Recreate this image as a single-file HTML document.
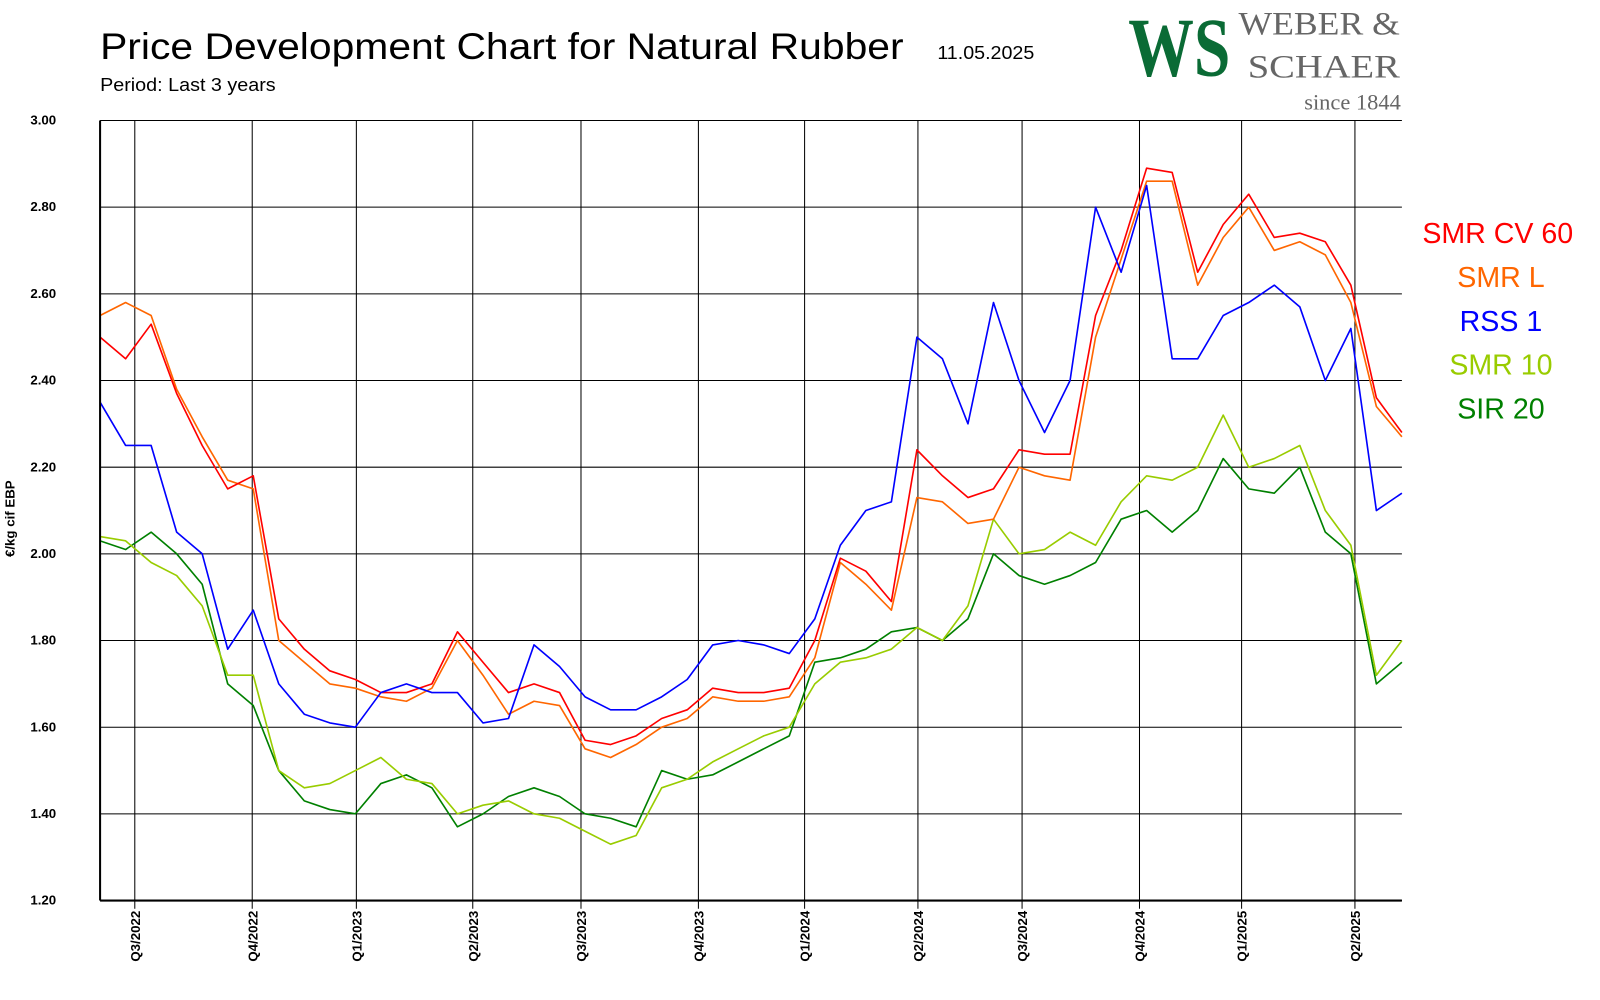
<!DOCTYPE html>
<html><head><meta charset="utf-8"><style>
html,body{margin:0;padding:0;background:#fff;}
svg{display:block;font-family:"Liberation Sans",sans-serif;}
</style></head><body>
<svg id="chart" width="1600" height="1000" viewBox="0 0 1567 979.4" xmlns="http://www.w3.org/2000/svg">
<text x="98" y="58" font-size="36" fill="#000" textLength="787" lengthAdjust="spacingAndGlyphs">Price Development Chart for Natural Rubber</text>
<text x="918" y="58" font-size="18" fill="#000" textLength="95" lengthAdjust="spacingAndGlyphs">11.05.2025</text>
<text x="98" y="89" font-size="18" fill="#000" textLength="172" lengthAdjust="spacingAndGlyphs">Period: Last 3 years</text>
<g>
<text x="1105" y="74" font-family="Liberation Serif,serif" font-weight="bold" font-size="82" fill="#0a6b35" textLength="100" lengthAdjust="spacingAndGlyphs">WS</text>
<text x="1213" y="34" font-family="Liberation Serif,serif" font-size="32" fill="#666" textLength="158" lengthAdjust="spacingAndGlyphs">WEBER &amp;</text>
<text x="1222" y="76" font-family="Liberation Serif,serif" font-size="32" fill="#666" textLength="149" lengthAdjust="spacingAndGlyphs">SCHAER</text>
<text x="1372" y="107" text-anchor="end" font-family="Liberation Serif,serif" font-size="22" fill="#666">since 1844</text>
</g>
<g id="grid"></g>
<g id="series"></g>
<g id="axes"></g>
<g id="legend"></g>
<text transform="translate(14,508) rotate(-90)" text-anchor="middle" font-size="13" font-weight="bold">€/kg cif EBP</text>
</svg>
<script>
const yTicks=[3.00,2.80,2.60,2.40,2.20,2.00,1.80,1.60,1.40,1.20];
const quarterLabels=["Q3/2022","Q4/2022","Q1/2023","Q2/2023","Q3/2023","Q4/2023","Q1/2024","Q2/2024","Q3/2024","Q4/2024","Q1/2025","Q2/2025"];
const quarterIdx=[1.36,5.96,10.04,14.6,18.84,23.44,27.6,32.04,36.12,40.72,44.72,49.16];
const smrCv60=[2.50,2.45,2.53,2.37,2.25,2.15,2.18,1.85,1.78,1.73,1.71,1.68,1.68,1.70,1.82,1.75,1.68,1.70,1.68,1.57,1.56,1.58,1.62,1.64,1.69,1.68,1.68,1.69,1.80,1.99,1.96,1.89,2.24,2.18,2.13,2.15,2.24,2.23,2.23,2.55,2.70,2.89,2.88,2.65,2.76,2.83,2.73,2.74,2.72,2.62,2.36,2.28];
const smrL=[2.55,2.58,2.55,2.38,2.27,2.17,2.15,1.80,1.75,1.70,1.69,1.67,1.66,1.69,1.80,1.72,1.63,1.66,1.65,1.55,1.53,1.56,1.60,1.62,1.67,1.66,1.66,1.67,1.76,1.98,1.93,1.87,2.13,2.12,2.07,2.08,2.20,2.18,2.17,2.50,2.68,2.86,2.86,2.62,2.73,2.80,2.70,2.72,2.69,2.58,2.34,2.27];
const rss1=[2.35,2.25,2.25,2.05,2.00,1.78,1.87,1.70,1.63,1.61,1.60,1.68,1.70,1.68,1.68,1.61,1.62,1.79,1.74,1.67,1.64,1.64,1.67,1.71,1.79,1.80,1.79,1.77,1.85,2.02,2.10,2.12,2.50,2.45,2.30,2.58,2.40,2.28,2.40,2.80,2.65,2.85,2.45,2.45,2.55,2.58,2.62,2.57,2.40,2.52,2.10,2.14];
const smr10=[2.04,2.03,1.98,1.95,1.88,1.72,1.72,1.50,1.46,1.47,1.50,1.53,1.48,1.47,1.40,1.42,1.43,1.40,1.39,1.36,1.33,1.35,1.46,1.48,1.52,1.55,1.58,1.60,1.70,1.75,1.76,1.78,1.83,1.80,1.88,2.08,2.00,2.01,2.05,2.02,2.12,2.18,2.17,2.20,2.32,2.20,2.22,2.25,2.10,2.02,1.72,1.80];
const sir20=[2.03,2.01,2.05,2.00,1.93,1.70,1.65,1.50,1.43,1.41,1.40,1.47,1.49,1.46,1.37,1.40,1.44,1.46,1.44,1.40,1.39,1.37,1.50,1.48,1.49,1.52,1.55,1.58,1.75,1.76,1.78,1.82,1.83,1.80,1.85,2.00,1.95,1.93,1.95,1.98,2.08,2.10,2.05,2.10,2.22,2.15,2.14,2.20,2.05,2.00,1.70,1.75];
const seriesNames=["SMR CV 60","SMR L","RSS 1","SMR 10","SIR 20"];
const seriesColors=["#ff0000","#ff6600","#0000ff","#99cc00","#008000"];
const seriesData=[smrCv60,smrL,rss1,smr10,sir20];

const X0=98,X1=1373,Y0=118,Y1=882,N=smrCv60.length;
const xs=i=>X0+i*(X1-X0)/(N-1);
const ys=v=>Y0+(3.0-v)*(Y1-Y0)/1.8;
const NS="http://www.w3.org/2000/svg";
function mk(tag,parent,attrs){const e=document.createElementNS(NS,tag);for(const k in attrs)e.setAttribute(k,attrs[k]);parent.appendChild(e);return e;}
const grid=document.getElementById('grid'),axes=document.getElementById('axes'),ser=document.getElementById('series'),leg=document.getElementById('legend');
yTicks.forEach(t=>{
 const l=mk('line',grid,{x1:X0,x2:X1,y1:ys(t),y2:ys(t),stroke:'#000','stroke-width':1});
 
 
 const tx=mk('text',axes,{x:55,y:ys(t)+4,'text-anchor':'end','font-size':13,'font-weight':'bold'});
 
 
 tx.textContent=t.toFixed(2);
});
quarterIdx.forEach((q,i)=>{
 const x=xs(q);
 const l=mk('line',grid,{x1:x,x2:x,y1:Y0,y2:Y1+8,stroke:'#000','stroke-width':1});
 
 
 const tx=mk('text',axes,{transform:`translate(${x+5},892) rotate(-90)`,'text-anchor':'end','font-size':13,'font-weight':'bold'});
 
 
 tx.textContent=quarterLabels[i];
});
const ax=mk('line',axes,{x1:X0,x2:X0,y1:Y0,y2:Y1,stroke:'#000','stroke-width':2});


const bx=mk('line',axes,{x1:X0,x2:X1,y1:Y1,y2:Y1,stroke:'#000','stroke-width':2});


[4,3,1,0,2].forEach(s=>{
 const pts=seriesData[s].map((v,i)=>xs(i).toFixed(1)+','+ys(v).toFixed(1)).join(' ');
 const p=mk('polyline',ser,{points:pts,fill:'none',stroke:seriesColors[s],'stroke-width':1.6,'stroke-linejoin':'round'});
 
 
});
const legX=[1393,1470,1470,1470,1470],legA=['start','middle','middle','middle','middle'];
seriesNames.forEach((n,i)=>{
 const t=mk('text',leg,{x:legX[i],y:238+i*43,'text-anchor':legA[i],'font-size':28,fill:seriesColors[i]});
 
 
 t.textContent=n;
});
</script>
</body></html>
